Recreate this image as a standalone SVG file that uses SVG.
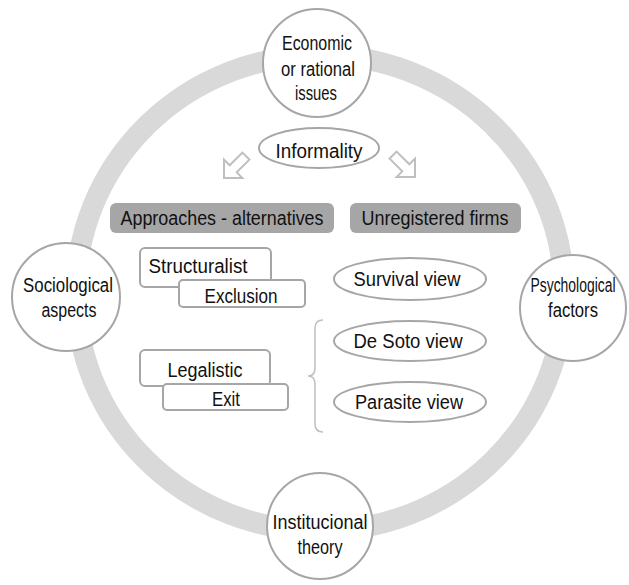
<svg xmlns="http://www.w3.org/2000/svg" width="629" height="585" viewBox="0 0 629 585">
<style>
text{font-family:"Liberation Sans",Arial,sans-serif;font-size:20px;fill:#111;text-anchor:middle}
.hub{fill:#fff;stroke:#a6a6a6;stroke-width:2}
.ov{fill:#fff;stroke:#a6a6a6;stroke-width:2}
.box{fill:#fff;stroke:#a6a6a6;stroke-width:2}
.hdr{fill:#a6a6a6;stroke:none}
.arr{fill:#fff;stroke:#bfbfbf;stroke-width:2;stroke-linejoin:miter}
.brace{fill:none;stroke:#bfbfbf;stroke-width:1.5}
</style>
<rect width="629" height="585" fill="#fff"/>
<g id="connectors">
<ellipse cx="320" cy="293" rx="244" ry="238" fill="none" stroke="#d9d9d9" stroke-width="21"/>
<polygon class="arr" points="0,0 -13,-13 -13,-5 -31,-5 -31,5 -13,5 -13,13" transform="translate(224,178) rotate(135)"/>
<polygon class="arr" points="0,0 -13,-13 -13,-5 -31,-5 -31,5 -13,5 -13,13" transform="translate(415,177) rotate(45)"/>
<path class="brace" d="M323,320 q-8,0 -8,8 L315,368 q0,8 -7,8 q7,0 7,8 L315,424 q0,8 8,8"/>
</g>
<g id="economic">
<circle class="hub" cx="317" cy="63" r="54"/>
<text x="317" y="50" textLength="70" lengthAdjust="spacingAndGlyphs">Economic</text>
<text x="318" y="76" textLength="74" lengthAdjust="spacingAndGlyphs">or rational</text>
<text x="316" y="100" textLength="42" lengthAdjust="spacingAndGlyphs">issues</text>
</g>
<g id="sociological">
<circle class="hub" cx="66" cy="297" r="54"/>
<text x="68" y="292" textLength="90" lengthAdjust="spacingAndGlyphs">Sociological</text>
<text x="69" y="317" textLength="55" lengthAdjust="spacingAndGlyphs">aspects</text>
</g>
<g id="psychological">
<circle class="hub" cx="573" cy="308" r="53"/>
<text x="573" y="292" textLength="85" lengthAdjust="spacingAndGlyphs">Psychological</text>
<text x="573" y="317" textLength="50" lengthAdjust="spacingAndGlyphs">factors</text>
</g>
<g id="institucional">
<circle class="hub" cx="320" cy="526" r="53"/>
<text x="320" y="529" textLength="95" lengthAdjust="spacingAndGlyphs">Institucional</text>
<text x="320" y="554" textLength="45" lengthAdjust="spacingAndGlyphs">theory</text>
</g>
<g id="informality">
<ellipse class="ov" cx="319" cy="148" rx="60" ry="20"/>
<text x="319" y="158" textLength="87" lengthAdjust="spacingAndGlyphs">Informality</text>
</g>
<g id="approaches">
<rect class="hdr" x="110" y="203" width="224" height="30" rx="6"/>
<text x="222" y="225" textLength="203" lengthAdjust="spacingAndGlyphs">Approaches - alternatives</text>
</g>
<g id="unregistered">
<rect class="hdr" x="350" y="203" width="171" height="30" rx="6"/>
<text x="435" y="225" textLength="147" lengthAdjust="spacingAndGlyphs">Unregistered firms</text>
</g>
<g id="structuralist">
<rect class="box" x="140" y="248" width="131" height="39" rx="5"/>
<text x="198" y="273" textLength="99" lengthAdjust="spacingAndGlyphs">Structuralist</text>
</g>
<g id="exclusion">
<rect class="box" x="179" y="280" width="126" height="27" rx="4"/>
<text x="241" y="303" textLength="73" lengthAdjust="spacingAndGlyphs">Exclusion</text>
</g>
<g id="survival">
<ellipse class="ov" cx="410" cy="279" rx="76" ry="21"/>
<text x="407" y="286" textLength="107" lengthAdjust="spacingAndGlyphs">Survival view</text>
</g>
<g id="legalistic">
<rect class="box" x="140" y="350" width="130" height="36" rx="5"/>
<text x="205" y="377" textLength="75" lengthAdjust="spacingAndGlyphs">Legalistic</text>
</g>
<g id="exit">
<rect class="box" x="163" y="384" width="125" height="26" rx="4"/>
<text x="226" y="406" textLength="28" lengthAdjust="spacingAndGlyphs">Exit</text>
</g>
<g id="desoto">
<ellipse class="ov" cx="410" cy="341" rx="76" ry="20"/>
<text x="408" y="348" textLength="109" lengthAdjust="spacingAndGlyphs">De Soto view</text>
</g>
<g id="parasite">
<ellipse class="ov" cx="410" cy="402" rx="76" ry="20"/>
<text x="409" y="409" textLength="108" lengthAdjust="spacingAndGlyphs">Parasite view</text>
</g>
</svg>
